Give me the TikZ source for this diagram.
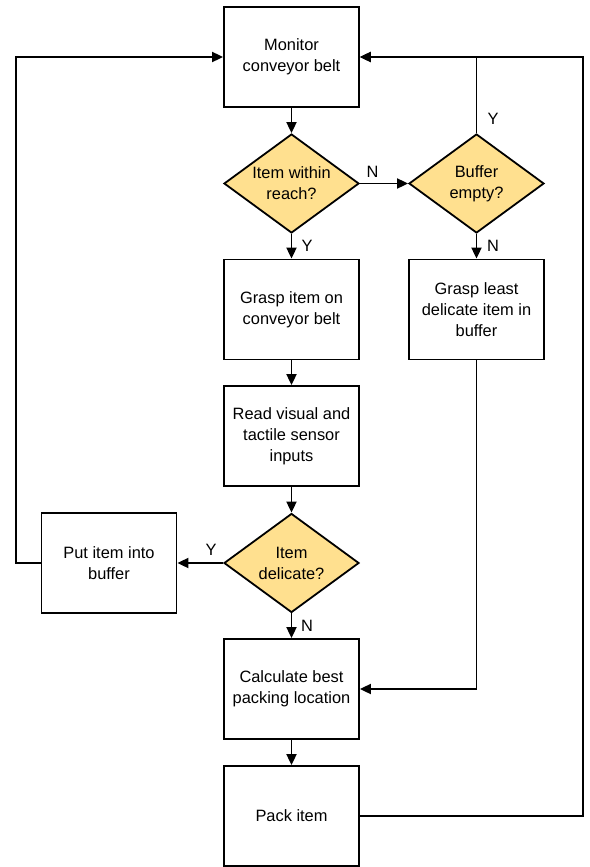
\documentclass[tikz,border=0pt]{standalone}
\usepackage{fontspec}
\setmainfont{Liberation Sans}
\usetikzlibrary{shapes.geometric,arrows.meta}
\definecolor{dfill}{HTML}{FFE08F}
\begin{document}
\begin{tikzpicture}[x=1pt,y=-1pt,
  font=\fontsize{16.4}{21}\selectfont,
  line width=1.8pt,
  box/.style={draw,minimum width=135pt,minimum height=100pt,inner sep=0pt,align=center},
  dia/.style={draw,fill=dfill,shape=diamond,shape aspect=1.3636,minimum width=135pt,minimum height=99pt,inner sep=0pt,align=center},
  arr/.style={-{Triangle[length=11pt,width=10pt]}},
  lbl/.style={inner sep=0pt}]
\useasboundingbox (0,0) rectangle (589,867);
\node[box] (mon) at (291.5,57) {Monitor\\conveyor belt};
\node[dia] (d1) at (291.5,183.5) {Item within\\reach?};
\node[dia] (d2) at (476.5,183.5) {Buffer\\empty?};
\node[box] (grasp) at (291.5,309.5) {Grasp item on\\conveyor belt};
\node[box] (least) at (476.5,309.5) {Grasp least\\delicate item in\\buffer};
\node[box] (read) at (291.5,436) {Read visual and\\tactile sensor\\inputs};
\node[dia] (d3) at (291.5,563) {Item\\delicate?};
\node[box] (put) at (109,563) {Put item into\\buffer};
\node[box] (calc) at (291.5,689) {Calculate best\\packing location};
\node[box] (pack) at (291.5,816) {Pack item};
\coordinate (rt) at (583,0);
\coordinate (lf) at (16,0);
\draw[arr] (mon) -- (d1);
\draw[arr] (d1) -- (d2);
\draw[arr] (d1) -- (grasp);
\draw[arr] (d2) -- (least);
\draw[arr] (d2.north) |- (mon.east);
\draw[arr] (grasp) -- (read);
\draw[arr] (read) -- (d3);
\draw[arr] (d3) -- (put);
\draw[arr] (d3) -- (calc);
\draw[arr] (least.south) |- (calc.east);
\draw[arr] (calc) -- (pack);
\draw[arr] (pack.east) -- (pack.east -| rt) |- (mon.east);
\draw[arr] (put.west) -- (put.west -| lf) |- (mon.west);
\node[lbl] (ln1) at (372.5,172) {N};
\node[lbl] (ly1) at (307,246) {Y};
\node[lbl] (ly2) at (493,119) {Y};
\node[lbl] (ln2) at (493,246) {N};
\node[lbl] (ly3) at (211,550) {Y};
\node[lbl] (ln3) at (307,626) {N};
\end{tikzpicture}
\end{document}
